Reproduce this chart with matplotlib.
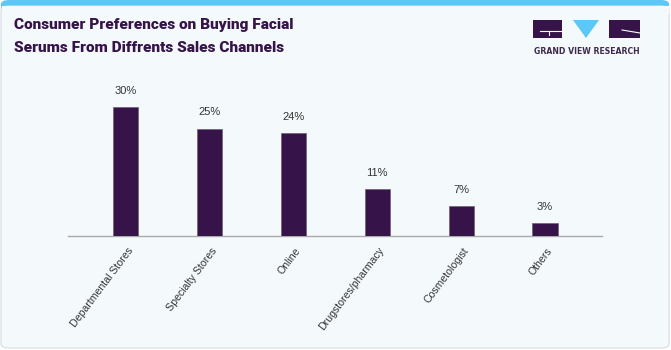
import matplotlib
matplotlib.use("Agg")
import matplotlib.pyplot as plt
import matplotlib.transforms as mtransforms
from matplotlib.patches import FancyBboxPatch, Rectangle, Polygon
from matplotlib.lines import Line2D

categories = ["Departmental Stores", "Specialty Stores", "Online",
              "Drugstores/pharmacy", "Cosmetologist", "Others"]
shares = [30, 25, 24, 11, 7, 3]
value_labels = ["30%", "25%", "24%", "11%", "7%", "3%"]

W, H = 671, 350
bar_color = "#361349"
title_color = "#361349"
bg = "#F4F9FC"

fig = plt.figure(figsize=(W / 100, H / 100), dpi=100)
fig.patch.set_facecolor("white")

def fx(px):
    return px / W

def fy(py):
    return 1 - py / H

# card background with a blue band at the top
fig.patches.append(FancyBboxPatch((fx(1), fy(20)), fx(668), 20 / H, boxstyle="round,pad=0,rounding_size=0.012",
                                  transform=fig.transFigure, facecolor="#5BC8F5", edgecolor="none", zorder=0))
fig.patches.append(FancyBboxPatch((fx(1), fy(348)), fx(668), 342 / H, boxstyle="round,pad=0,rounding_size=0.012",
                                  transform=fig.transFigure, facecolor=bg, edgecolor="#D6DCE0", linewidth=0.8, zorder=0))
fig.patches.append(Rectangle((fx(1.5), fy(14)), fx(667), 8 / H, transform=fig.transFigure,
                             facecolor=bg, edgecolor="none", zorder=0))

# title
fig.text(fx(14), fy(25), "Consumer Preferences on Buying Facial", fontsize=11.1, fontweight="black",
         family="Roboto", color=title_color, va="center", ha="left")
fig.text(fx(14), fy(48), "Serums From Diffrents Sales Channels", fontsize=11.1, fontweight="black",
         family="Roboto", color=title_color, va="center", ha="left")

# logo
fig.patches.append(Rectangle((fx(533), fy(38)), fx(29), 18 / H, transform=fig.transFigure,
                             facecolor=bar_color, edgecolor="none"))
fig.lines.append(Line2D([fx(540), fx(562)], [fy(31), fy(31)], transform=fig.transFigure, color="white", lw=0.8))
fig.lines.append(Line2D([fx(549), fx(549)], [fy(31), fy(35)], transform=fig.transFigure, color="white", lw=0.8))
fig.patches.append(Polygon([(fx(573), fy(20)), (fx(599), fy(20)), (fx(586), fy(38))], closed=True,
                           transform=fig.transFigure, facecolor="#5BC8F5", edgecolor="none"))
fig.patches.append(Rectangle((fx(609), fy(38)), fx(31), 18 / H, transform=fig.transFigure,
                             facecolor=bar_color, edgecolor="none"))
fig.lines.append(Line2D([fx(622), fx(640)], [fy(30), fy(33)], transform=fig.transFigure, color="white", lw=0.8))
fig.text(fx(586.5), fy(51), "GRAND VIEW RESEARCH", fontsize=5.6, fontweight="bold", family="DejaVu Sans",
         color="#3D2A4E", ha="center", va="center")

# chart
ax = fig.add_axes([fx(68), 114 / H, fx(534), 156 / H])
ax.set_zorder(5)
ax.set_facecolor("none")
x = list(range(len(categories)))
ax.bar(x, shares, width=0.3, color=bar_color, edgecolor="#6E6078", linewidth=0.5, zorder=3)
for xi, v, lab in zip(x, shares, value_labels):
    ax.text(xi, v + 2.6, lab, ha="center", va="bottom", fontsize=8, family="Liberation Sans", color="#333333")

ax.set_xlim(-0.69, 5.68)
ax.set_ylim(0, 36.3)
ax.set_yticks([])
ax.set_xticks(x)
ax.set_xticklabels(categories, rotation=53, ha="right", va="center", rotation_mode="anchor",
                   fontsize=7.6, family="Liberation Sans", color="#333333")
ax.tick_params(axis="x", length=0, pad=9)
shift = mtransforms.ScaledTranslation(5 / 100, 0, fig.dpi_scale_trans)
for lab in ax.get_xticklabels():
    lab.set_transform(lab.get_transform() + shift)
for s in ["top", "right", "left"]:
    ax.spines[s].set_visible(False)
ax.spines["bottom"].set_color("#AAAAAA")
ax.spines["bottom"].set_linewidth(1)

fig.savefig("out.png", dpi=100, facecolor=fig.get_facecolor())
